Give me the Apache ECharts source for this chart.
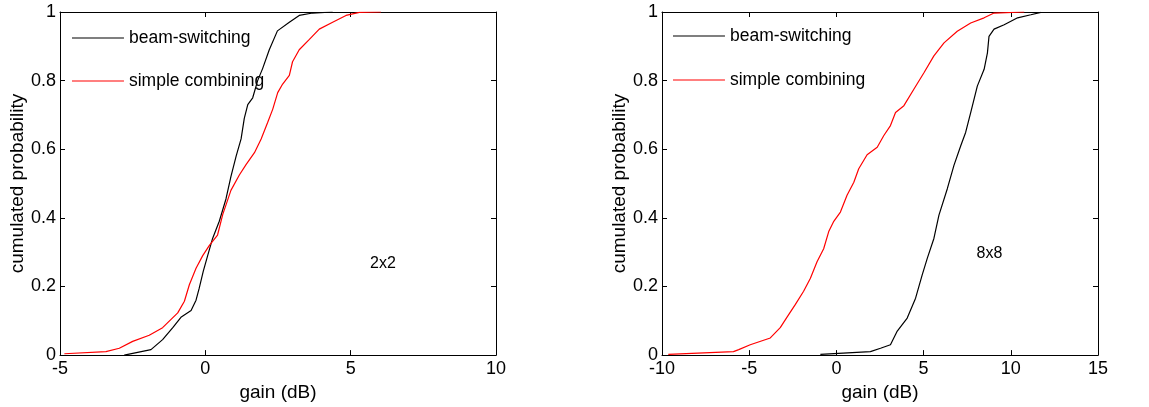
<!DOCTYPE html>
<html>
<head>
<meta charset="utf-8">
<script src="https://cdn.jsdelivr.net/npm/echarts@6/dist/echarts.min.js"></script>
<style>
  html, body { margin: 0; padding: 0; background: #fff; }
  #chart { width: 1149px; height: 407px; }
</style>
</head>
<body>
<div id="chart"></div>
<script>
const gain2BeamSwitch = [-2.79, -1.87, -1.47, -1.12, -0.84, -0.49, -0.32, -0.21, -0.07, 0.08, 0.25, 0.48, 0.71, 0.88, 1.06, 1.23, 1.34, 1.46, 1.63, 1.80, 1.97, 2.20, 2.48, 2.89, 3.23, 3.69, 4.38];
const prob2BeamSwitch = [0, 0.016, 0.045, 0.08, 0.11, 0.13, 0.16, 0.195, 0.245, 0.29, 0.34, 0.39, 0.455, 0.52, 0.58, 0.63, 0.69, 0.73, 0.75, 0.80, 0.835, 0.89, 0.945, 0.97, 0.99, 0.997, 1];
const gain2Combining = [-4.85, -3.42, -2.96, -2.5, -1.93, -1.47, -0.95, -0.72, -0.55, -0.32, -0.09, 0.14, 0.42, 0.60, 0.88, 1.17, 1.40, 1.69, 1.92, 2.14, 2.32, 2.49, 2.66, 2.89, 3.0, 3.23, 3.58, 3.92, 4.38, 4.84, 5.30, 6.04];
const prob2Combining = [0.004, 0.01, 0.02, 0.04, 0.058, 0.08, 0.123, 0.157, 0.205, 0.253, 0.29, 0.32, 0.35, 0.41, 0.48, 0.525, 0.555, 0.59, 0.63, 0.677, 0.717, 0.765, 0.79, 0.815, 0.855, 0.89, 0.92, 0.95, 0.97, 0.99, 0.999, 1];

// 8x8 panel
const gain8BeamSwitch = [-0.92, 1.95, 2.53, 3.1, 3.49, 4.06, 4.54, 4.92, 5.21, 5.59, 5.88, 6.36, 6.74, 7.13, 7.41, 7.70, 8.08, 8.47, 8.66, 8.75, 9.04, 9.62, 10.39, 11.15, 11.72];
const prob8BeamSwitch = [0.002, 0.01, 0.02, 0.03, 0.07, 0.108, 0.166, 0.234, 0.282, 0.34, 0.408, 0.485, 0.553, 0.61, 0.649, 0.707, 0.784, 0.833, 0.881, 0.929, 0.95, 0.963, 0.983, 0.992, 0.999];
const gain8Combining = [-9.64, -5.9, -5.6, -4.94, -3.79, -3.22, -2.84, -2.36, -1.88, -1.49, -1.11, -0.73, -0.44, -0.15, 0.23, 0.61, 1.0, 1.28, 1.76, 2.34, 2.72, 3.1, 3.39, 3.87, 4.44, 5.02, 5.59, 6.17, 6.93, 7.70, 8.47, 9.04, 10.77];
const prob8Combining = [0.002, 0.01, 0.016, 0.03, 0.05, 0.08, 0.11, 0.147, 0.186, 0.224, 0.272, 0.31, 0.36, 0.39, 0.417, 0.466, 0.504, 0.543, 0.584, 0.606, 0.64, 0.669, 0.707, 0.727, 0.775, 0.823, 0.872, 0.91, 0.944, 0.968, 0.983, 0.997, 1];

const seriesNames = ['beam-switching', 'simple combining'];
const panelLabels = ['2x2', '8x8'];
const xRanges = [[-5, 10], [-10, 15]];

const zip = (xs, ys) => xs.map((x, i) => [x, ys[i]]);

const font = 'Liberation Sans, Arial, sans-serif';
const grids = [
  { left: 60, top: 12, width: 436, height: 345 },
  { left: 662, top: 12, width: 436, height: 345 }
];

const xAxes = [];
const yAxes = [];
grids.forEach((g, i) => {
  const [min, max] = xRanges[i];
  // bottom axis with labels
  xAxes.push({
    gridIndex: i, type: 'value', min, max, interval: 5, position: 'bottom',
    name: 'gain (dB)', nameLocation: 'middle', nameGap: 26,
    nameTextStyle: { fontFamily: font, fontSize: 19, color: '#000' },
    axisLine: { show: true, onZero: false, lineStyle: { color: '#000', width: 1 } },
    axisTick: { inside: true, length: 5, lineStyle: { color: '#000' } },
    axisLabel: { fontFamily: font, fontSize: 18, color: '#000', margin: 5 },
    splitLine: { show: false }
  });
  // top axis, ticks only
  xAxes.push({
    gridIndex: i, type: 'value', min, max, interval: 5, position: 'top',
    axisLine: { show: true, onZero: false, lineStyle: { color: '#000', width: 1 } },
    axisTick: { inside: true, length: 5, lineStyle: { color: '#000' } },
    axisLabel: { show: false },
    splitLine: { show: false }
  });
  yAxes.push({
    gridIndex: i, type: 'value', min: 0, max: 1, interval: 0.2, position: 'left',
    name: 'cumulated probability', nameLocation: 'middle', nameGap: 32,
    nameTextStyle: { fontFamily: font, fontSize: 19, color: '#000' },
    axisLine: { show: true, onZero: false, lineStyle: { color: '#000', width: 1 } },
    axisTick: { inside: true, length: 5, lineStyle: { color: '#000' } },
    axisLabel: { fontFamily: font, fontSize: 18, color: '#000', margin: 4 },
    splitLine: { show: false }
  });
  yAxes.push({
    gridIndex: i, type: 'value', min: 0, max: 1, interval: 0.2, position: 'right',
    axisLine: { show: true, onZero: false, lineStyle: { color: '#000', width: 1 } },
    axisTick: { inside: true, length: 5, lineStyle: { color: '#000' } },
    axisLabel: { show: false },
    splitLine: { show: false }
  });
});

const lineSeries = (name, color, data, i, label) => ({
  name, type: 'line', xAxisIndex: i * 2, yAxisIndex: i * 2,
  data, showSymbol: false, symbol: 'none', animation: false,
  lineStyle: { color, width: 1.2 }, itemStyle: { color },
  markPoint: label ? {
    symbol: 'circle', symbolSize: 1, silent: true,
    itemStyle: { color: 'rgba(0,0,0,0)' },
    label: { show: true, position: 'inside', formatter: label.text, fontFamily: font, fontSize: 16, color: '#000' },
    data: [{ coord: label.coord }]
  } : undefined
});

const series = [
  lineSeries(seriesNames[0], '#000', zip(gain2BeamSwitch, prob2BeamSwitch), 0, { text: panelLabels[0], coord: [6.11, 0.267] }),
  lineSeries(seriesNames[1], '#ff0000', zip(gain2Combining, prob2Combining), 0),
  lineSeries(seriesNames[0], '#000', zip(gain8BeamSwitch, prob8BeamSwitch), 1, { text: panelLabels[1], coord: [8.78, 0.295] }),
  lineSeries(seriesNames[1], '#ff0000', zip(gain8Combining, prob8Combining), 1)
];

// thin line icon, padded so the box stays 52x14
const lineIcon = 'path://M0,0h52v0.01h-52z M0,6.4h52v1.2h-52z M0,14h52v0.01h-52z';
const legendBase = {
  orient: 'vertical', data: seriesNames, icon: lineIcon, itemWidth: 52, itemHeight: 14, itemGap: 25,
  padding: 0, selectedMode: false,
  textStyle: { fontFamily: font, fontSize: 17.5, color: '#000' }
};

const chart = echarts.init(document.getElementById('chart'));
chart.setOption({
  animation: false,
  backgroundColor: '#fff',
  grid: grids,
  xAxis: xAxes,
  yAxis: yAxes,
  legend: [
    Object.assign({}, legendBase, { left: 72, top: 29 }),
    Object.assign({}, legendBase, { left: 673, top: 27, itemGap: 26 })
  ],
  series
});
</script>
</body>
</html>
